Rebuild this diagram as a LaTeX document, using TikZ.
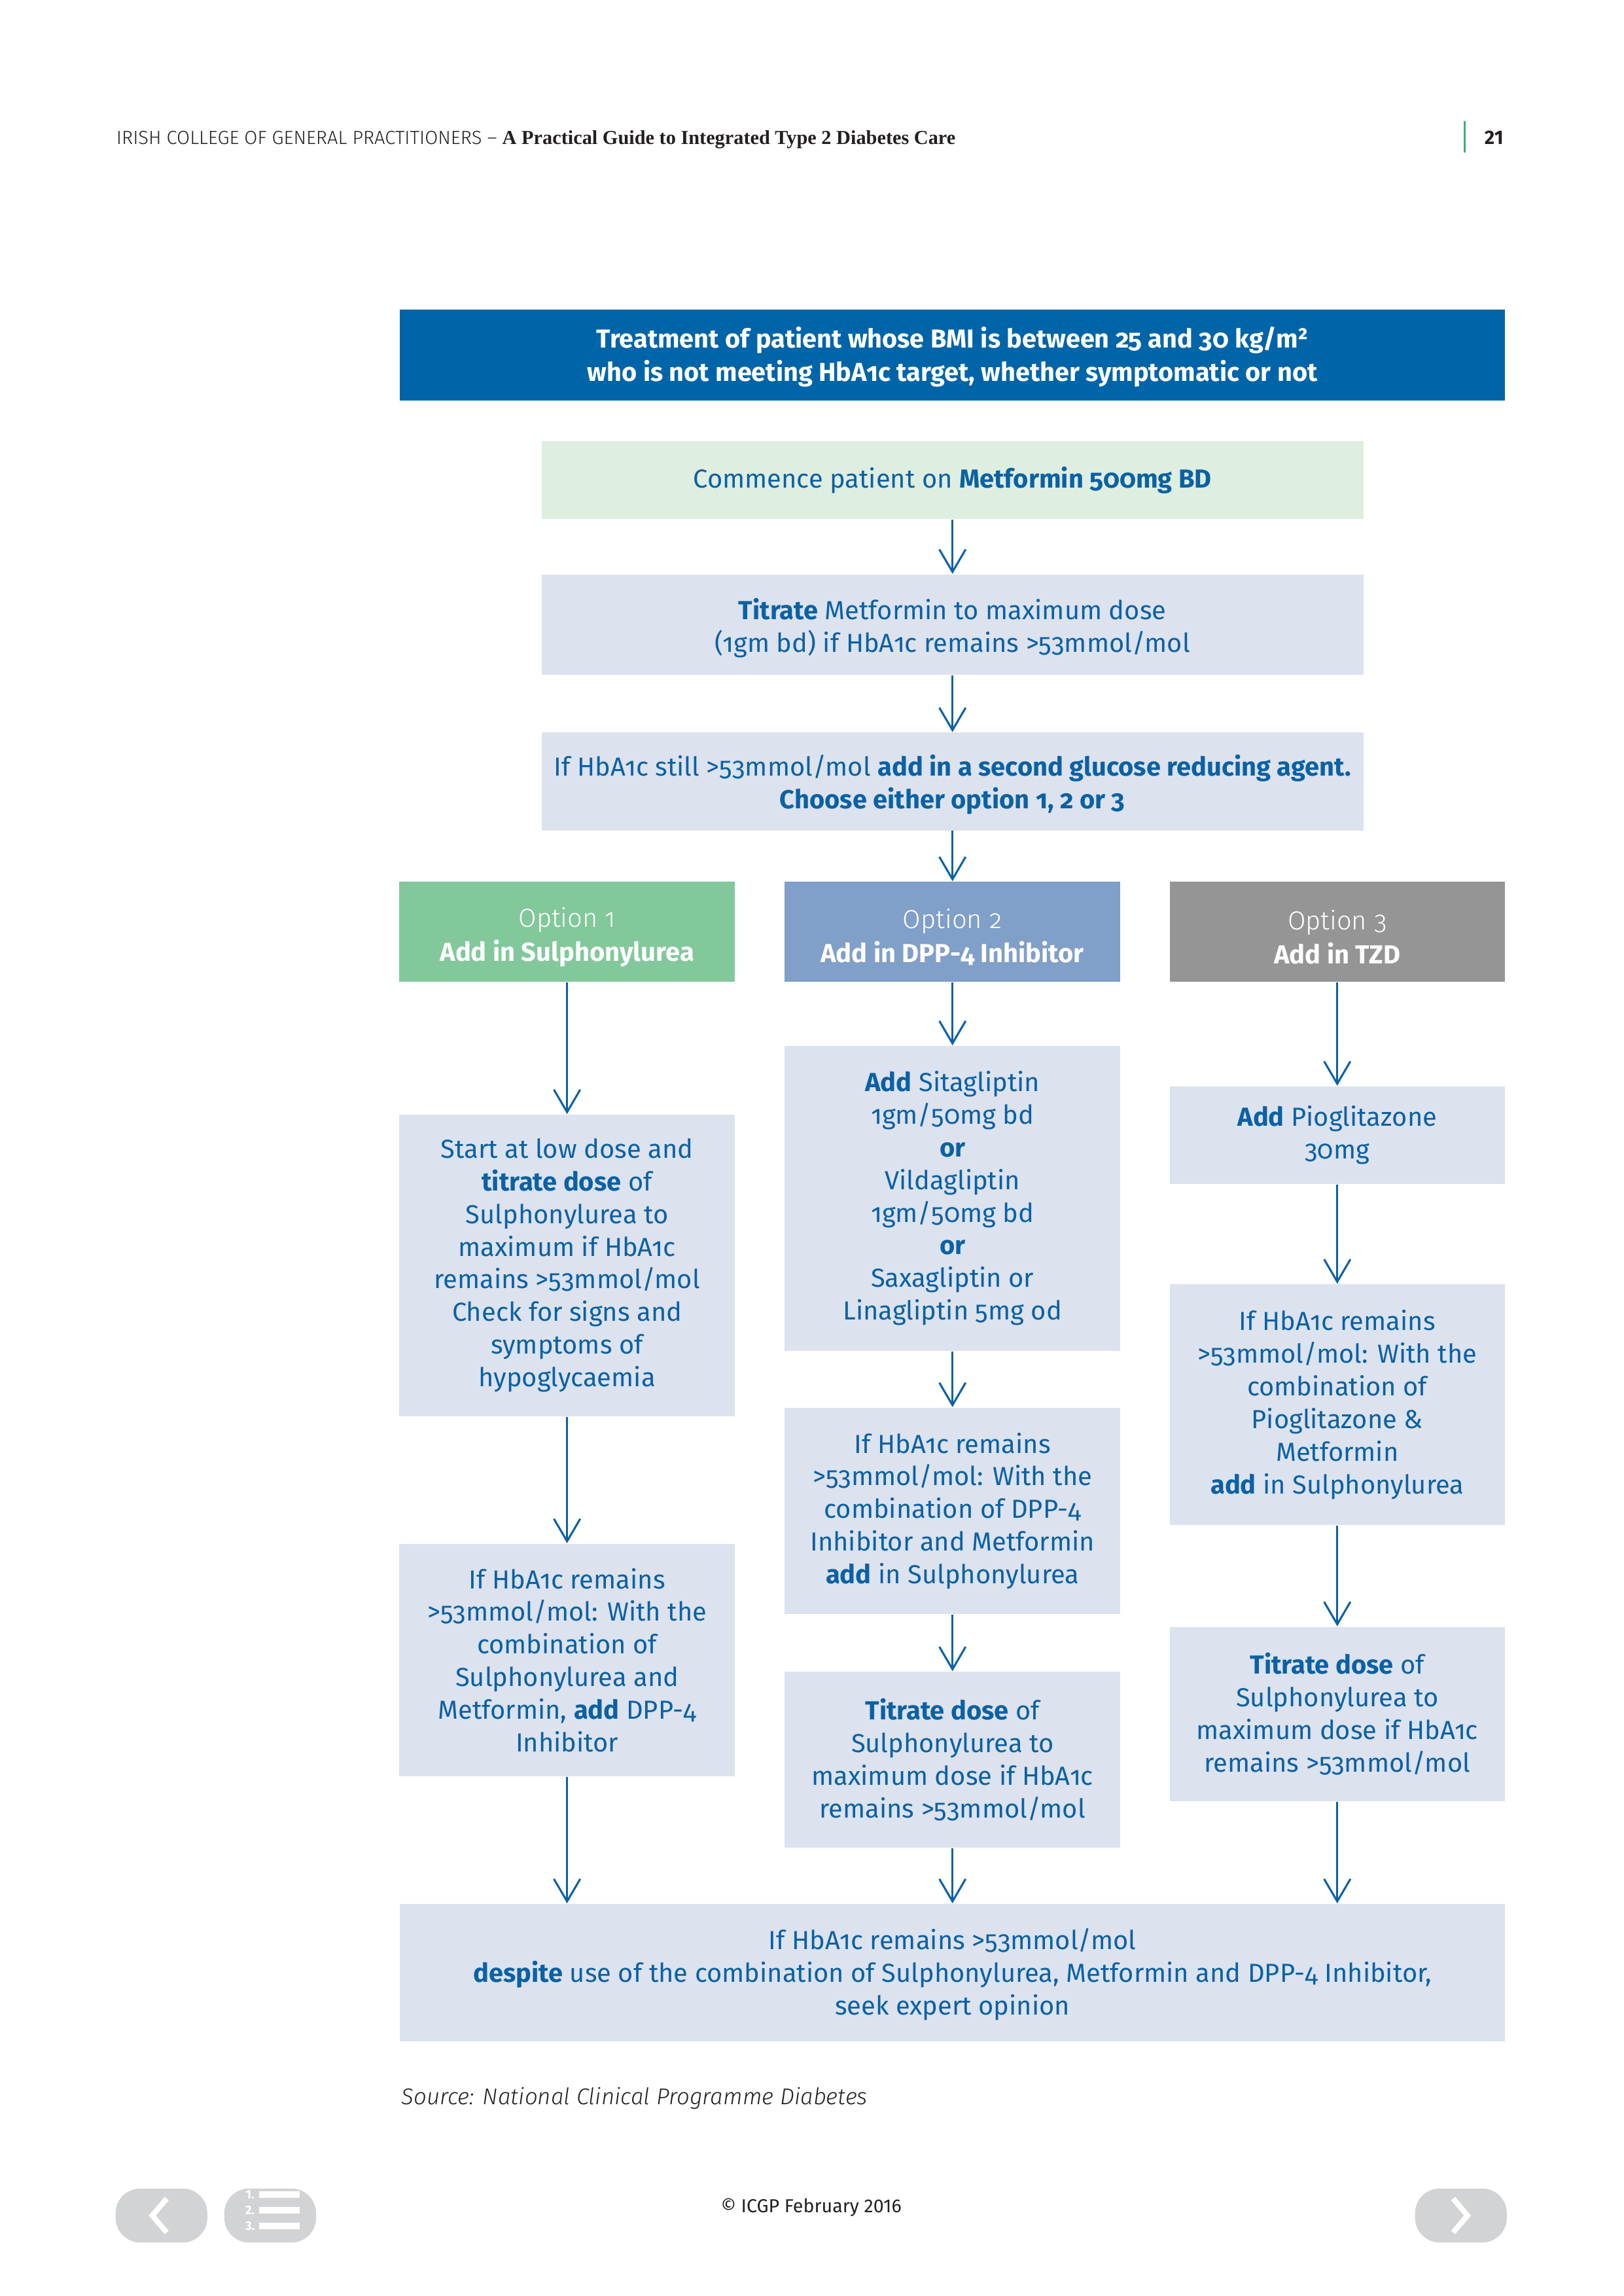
\documentclass[tikz,border=0pt]{standalone}
\usepackage{fontspec}
\setmainfont{Fira Sans}[Numbers=OldStyle]
\newfontfamily\lightfont{Fira Sans Light}[Numbers=OldStyle]
\newfontfamily\headserif{Liberation Serif}
\usetikzlibrary{arrows.meta}

\definecolor{icgpblue}{HTML}{0065A8}
\definecolor{textblue}{HTML}{0B61A4}
\definecolor{boxgrey}{HTML}{DCE2EE}
\definecolor{boxgreen}{HTML}{DEEEE1}
\definecolor{optgreen}{HTML}{82C89B}
\definecolor{optblue}{HTML}{809FC9}
\definecolor{optgrey}{HTML}{959596}
\definecolor{btngrey}{HTML}{D1D3D4}
\definecolor{bargreen}{HTML}{3DAE7B}
\definecolor{inkgrey}{HTML}{231F20}

\newcommand{\pxu}{0.08422mm}
\newcommand{\topstrut}[1]{\rule{0pt}{#1}}

\begin{document}
\begin{tikzpicture}[x=0.08422mm,y=-0.08422mm,
    ->,>={Straight Barb[length=2.9mm,width=3.4mm]},
    every edge/.style={draw=textblue,line width=0.26mm},
    box/.style={rectangle,fill=boxgrey,text=textblue,align=center,inner sep=0pt,
        font=\fontsize{9.6}{12}\selectfont},
    wide/.style={box,minimum width=1698*\pxu},
    mid/.style={box,minimum width=1262*\pxu},
    col/.style={box,minimum width=515*\pxu},
    option/.style={col,fill=#1,text=white,minimum height=154*\pxu,
        font=\fontsize{9.6}{12.4}\selectfont},
    button/.style={rectangle,fill=btngrey,rounded corners=3.2mm,
        minimum width=141*\pxu,minimum height=83*\pxu,inner sep=0pt}]

    \useasboundingbox (0,0) rectangle (2493.5,3525.6);

    % Page header
    \node[anchor=base west,inner sep=0pt,text=inkgrey] (header) at (178,222)
        {{\fontsize{7}{8}\selectfont\lightfont IRISH COLLEGE OF GENERAL PRACTITIONERS – }{\fontsize{7.3}{8}\selectfont\headserif\bfseries A Practical Guide to Integrated Type 2 Diabetes Care}};
    \node[anchor=base east,inner sep=0pt,text=inkgrey] (pagenum) at (2310,222)
        {\fontsize{7.2}{8}\selectfont\addfontfeatures{Numbers=Lining}\bfseries 21};
    \draw[-,bargreen,line width=0.25mm] (2250,186) -- (2250,234);

    % Title and first steps
    \node[wide,fill=icgpblue,text=white,minimum height=140*\pxu,
        font=\fontsize{9.55}{12.4}\selectfont\bfseries] (title) at (1463,545)
        {\topstrut{9.3pt}Treatment of patient whose BMI is between 25 and 30 kg/m²\\who is not meeting HbA1c target, whether symptomatic or not};
    \node[mid,fill=boxgreen,minimum height=120*\pxu] (commence) at (1463,737)
        {Commence patient on \textbf{Metformin 500mg BD}};
    \node[mid,minimum height=154*\pxu] (titrate) at (1463,959)
        {\topstrut{10.5pt}\textbf{Titrate} Metformin to maximum dose\\(1gm bd) if HbA1c remains >53mmol/mol};
    \node[mid,minimum height=150*\pxu] (second) at (1463,1200)
        {\topstrut{10.2pt}If HbA1c still >53mmol/mol \textbf{add in a second glucose reducing agent.}\\\textbf{Choose either option 1, 2 or 3}};

    % Option nodes
    \node[option=optgreen] (opt1) at (871,1431) {\topstrut{11pt}{\lightfont Option 1}\\\textbf{Add in Sulphonylurea}};
    \node[option=optblue] (opt2) at (1463,1431) {\topstrut{11pt}{\lightfont Option 2}\\\textbf{Add in DPP-4 Inhibitor}};
    \node[option=optgrey] (opt3) at (2054,1431) {\topstrut{11pt}{\lightfont Option 3}\\\textbf{Add in TZD}};

    % Option 1 column
    \node[col,minimum height=463*\pxu] (sulA) at (871,1943)
        {Start at low dose and\\\textbf{titrate dose} of\\Sulphonylurea to\\maximum if HbA1c\\remains >53mmol/mol\\Check for signs and\\symptoms of\\hypoglycaemia};
    \node[col,minimum height=357*\pxu] (sulB) at (871,2549)
        {If HbA1c remains\\>53mmol/mol: With the\\combination of\\Sulphonylurea and\\Metformin, \textbf{add} DPP-4\\Inhibitor};

    % Option 2 column
    \node[col,minimum height=468*\pxu] (dppA) at (1463,1840)
        {\textbf{Add} Sitagliptin\\1gm/50mg bd\\\textbf{or}\\Vildagliptin\\1gm/50mg bd\\\textbf{or}\\Saxagliptin or\\Linagliptin 5mg od};
    \node[col,minimum height=317*\pxu] (dppB) at (1463,2320)
        {If HbA1c remains\\>53mmol/mol: With the\\combination of DPP-4\\Inhibitor and Metformin\\\textbf{add} in Sulphonylurea};
    \node[col,minimum height=270*\pxu] (dppC) at (1463,2702)
        {\textbf{Titrate dose} of\\Sulphonylurea to\\maximum dose if HbA1c\\remains >53mmol/mol};

    % Option 3 column
    \node[col,minimum height=150*\pxu] (tzdA) at (2054,1743)
        {\textbf{Add} Pioglitazone\\30mg};
    \node[col,minimum height=370*\pxu] (tzdB) at (2054,2157)
        {If HbA1c remains\\>53mmol/mol: With the\\combination of\\Pioglitazone \&\\Metformin\\\textbf{add} in Sulphonylurea};
    \node[col,minimum height=268*\pxu] (tzdC) at (2054,2632)
        {\textbf{Titrate dose} of\\Sulphonylurea to\\maximum dose if HbA1c\\remains >53mmol/mol};

    % Final step
    \node[wide,minimum height=211*\pxu] (expert) at (1463,3029)
        {\topstrut{9pt}If HbA1c remains >53mmol/mol\\\textbf{despite} use of the combination of Sulphonylurea, Metformin and DPP-4 Inhibitor,\\seek expert opinion};
    \coordinate (in1) at (sulB |- expert.north);
    \coordinate (in2) at (dppC |- expert.north);
    \coordinate (in3) at (tzdC |- expert.north);

    % Arrows
    \path (commence) edge (titrate);
    \path (titrate) edge (second);
    \path (second) edge (opt2);
    \path (opt1) edge (sulA);
    \path (sulA) edge (sulB);
    \path (sulB) edge (in1);
    \path (opt2) edge (dppA);
    \path (dppA) edge (dppB);
    \path (dppB) edge (dppC);
    \path (dppC) edge (in2);
    \path (opt3) edge (tzdA);
    \path (tzdA) edge (tzdB);
    \path (tzdB) edge (tzdC);
    \path (tzdC) edge (in3);

    % Source and footer
    \node[anchor=base west,inner sep=0pt,text=inkgrey] (source) at (616,3232)
        {\fontsize{8.4}{10}\selectfont\lightfont\itshape Source: National Clinical Programme Diabetes};
    \node[inner sep=0pt,text=inkgrey] (footer) at (1246,3390)
        {\fontsize{6.9}{8}\selectfont\addfontfeatures{Numbers=Lining}© ICGP February 2016};

    % Navigation buttons
    \node[button] (prev) at (248,3402) {};
    \node[button] (contents) at (415,3402) {};
    \node[button] (next) at (2244,3402) {};
    \draw[-,white,line width=0.7mm] (256,3376) -- (234,3402) -- (256,3428);
    \draw[-,white,line width=0.7mm] (2232,3376) -- (2254,3402) -- (2232,3428);
    \foreach \n/\y in {1/3370,2/3394,3/3418} {
        \node[text=white,inner sep=0pt,font=\fontsize{4.6}{5}\selectfont\bfseries\addfontfeatures{Numbers=Lining}] at (384,\y) {\n.};
        \fill[white] (398,\y-5) rectangle (460,\y+5);
    }

\end{tikzpicture}
\end{document}
